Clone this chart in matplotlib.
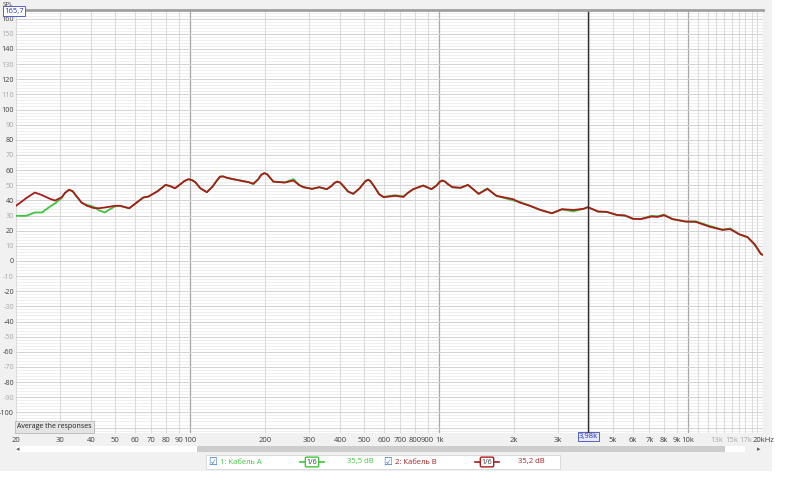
import matplotlib
matplotlib.use("Agg")
import matplotlib.pyplot as plt
from matplotlib.patches import Rectangle
from matplotlib.lines import Line2D

plt.rcParams['font.family'] = ['Open Sans', 'DejaVu Sans']

# ---------------- data ----------------
freqs = [20, 22, 23.8, 25.4, 27.4, 28.7, 30.5, 31.5, 32.7, 33.8, 34.5, 36.7, 38.5, 40.9, 43,
         45.5, 47.5, 49.9, 52.3, 57, 61, 64.9, 68, 74, 79.8, 83, 87, 92, 95, 98.6, 102, 105,
         110, 116.8, 123, 128, 132, 136, 140, 148.9, 160, 172, 179.6, 188, 193, 198.8, 204,
         207, 216, 240, 260, 275, 286, 309, 330, 354, 370, 380, 390, 400, 410, 430, 452, 480,
         505, 518, 530, 550, 575, 599, 666, 720, 750, 788, 864, 932, 980, 1005, 1030, 1055,
         1080, 1132, 1220, 1306, 1380, 1442, 1563, 1700, 1982, 2112, 2320, 2550, 2840, 3114,
         3466, 3800, 3958, 4360, 4712, 5172, 5580, 6020, 6440, 7120, 7560, 8000, 8680, 9800,
         10740, 12160, 13740, 14760, 16060, 17340, 18500, 19620, 20000]

spl_b = [36.4, 41.5, 45.2, 43.5, 41.0, 39.9, 42.0, 45.0, 47.0, 46.0, 44.0, 38.5, 36.5, 35.0, 34.8,
         35.3, 35.8, 36.4, 36.4, 34.8, 38.5, 41.9, 42.5, 46.0, 50.2, 49.5, 48.0, 51.0, 52.8, 54.0, 53.3, 52.0,
         48.0, 45.4, 49.0, 53.0, 55.7, 55.8, 55.0, 54.0, 53.0, 52.0, 50.9, 54.0, 56.8, 58.0, 57.2,
         56.0, 52.4, 51.8, 53.1, 50.0, 48.7, 47.6, 48.7, 47.4, 49.5, 51.5, 52.4, 51.8, 50.0, 46.0, 44.3, 48.0,
         52.5, 53.6, 52.8, 49.0, 44.0, 42.1, 43.0, 42.3, 45.0, 47.4, 49.8, 47.4, 50.0, 52.2, 53.1, 52.5,
         51.0, 48.7, 48.3, 50.2, 47.0, 44.3, 47.6, 43.0, 40.8, 38.5, 36.4, 33.7, 31.5, 34.2,
         33.7, 34.4, 35.5, 32.6, 32.4, 30.4, 30.0, 27.8, 27.6, 29.3, 29.1, 30.2, 27.6, 26.0,
         25.8, 22.7, 20.5, 21.0, 17.6, 15.7, 11.0, 4.6, 4.0]

spl_a = [29.8, 29.8, 32.0, 32.0, 35.9, 38.0, 41.5, 45.0, 47.0, 46.0, 44.0, 38.5, 37.0, 35.9, 33.5,
         32.0, 34.0, 36.0, 36.4, 34.8, 38.5, 41.9, 42.5, 46.0, 50.2, 49.5, 48.0, 51.0, 52.8, 54.0, 53.3, 52.0,
         48.0, 45.4, 49.0, 53.0, 55.7, 55.8, 55.0, 54.0, 53.0, 52.0, 50.9, 54.0, 56.8, 58.0, 57.2,
         56.0, 52.4, 51.8, 54.0, 50.0, 48.7, 47.6, 48.7, 47.4, 49.5, 51.5, 52.4, 51.8, 50.0, 46.0, 44.3, 48.0,
         52.5, 53.6, 52.8, 49.0, 44.0, 42.3, 43.4, 42.6, 45.0, 47.4, 49.8, 47.4, 50.0, 52.2, 53.1, 52.5,
         51.0, 48.7, 48.3, 50.2, 47.0, 44.3, 47.9, 43.0, 40.0, 39.0, 36.4, 33.7, 31.5, 34.0,
         32.8, 34.4, 35.5, 32.6, 32.4, 30.4, 30.0, 27.8, 27.6, 29.8, 29.5, 30.6, 27.6, 26.0,
         26.2, 23.2, 20.7, 21.5, 17.6, 15.7, 11.0, 4.6, 4.0]

x_tick_freqs = [20, 30, 40, 50, 60, 70, 80, 90, 100, 200, 300, 400, 500, 600, 700, 800, 900,
                1000, 2000, 3000, 5000, 6000, 7000, 8000, 9000, 10000, 13000, 15000, 17000, 20000]
x_tick_labels = ['20', '30', '40', '50', '60', '70', '80', '90', '100', '200', '300', '400', '500',
                 '600', '700', '800', '900', '1k', '2k', '3k', '5k', '6k', '7k', '8k', '9k', '10k',
                 '13k', '15k', '17k', '20kHz']
light_x_labels = ['13k', '15k', '17k']

y_ticks = list(range(-100, 161, 10))
y_tick_labels = [str(v) for v in y_ticks]

cursor_freq = 3980
cursor_label = '3,98k'
y_top_label = '165,7'

name_a = '1: Кабель A'
name_b = '2: Кабель B'
value_a = '35,5 dB'
value_b = '35,2 dB'
smoothing = '1/6'

color_a = '#3ec43e'
color_b = '#a81c1c'

# ---------------- figure ----------------
W, H = 800, 500
fig = plt.figure(figsize=(8, 5), dpi=100, facecolor='white')

def fx(px):
    return px / W

def fy(py):
    return 1 - py / H

# window background
fig.add_artist(Rectangle((0, fy(471)), fx(772), fy(0) - fy(471), transform=fig.transFigure,
                         facecolor='#f1f1f1', edgecolor='none', zorder=-10))

ax = fig.add_axes([fx(16), fy(433), fx(763) - fx(16), fy(10) - fy(433)])
ax.set_facecolor('white')
ax.set_xscale('log')
ax.set_xlim(20, 20000)
ax.set_ylim(-113.6, 165.7)

# grid lines
grid_freqs = []
for dec in (10, 100, 1000):
    for m in range(2, 10):
        grid_freqs.append(m * dec)
grid_freqs += list(range(11000, 20001, 1000))
for f in grid_freqs:
    if f in (100, 1000, 10000):
        continue
    ax.axvline(f, color='#dcdcdc', lw=0.8, zorder=1)
for f in (100, 1000, 10000):
    ax.axvline(f, color='#a8a8a8', lw=0.9, zorder=1)
for v in range(-112, 166, 2):
    if v % 10 == 0:
        ax.axhline(v, color='#d2d2d2', lw=0.7, zorder=1)
    else:
        ax.axhline(v, color='#ececec', lw=0.6, zorder=0.9)

# curves
ax.plot(freqs, spl_a, color=color_a, lw=1.3, zorder=3, solid_joinstyle='round')
ax.plot(freqs, spl_b, color=color_b, lw=1.3, zorder=4, solid_joinstyle='round')

# cursor
ax.axvline(cursor_freq, color='#303030', lw=1.0, zorder=5)

# spines
for s in ax.spines.values():
    s.set_visible(False)
ax.axhline(165.7, color='#a0a0a0', lw=2.0, zorder=6, clip_on=False)
ax.axvline(20000, color='#d0d0d0', lw=0.8, zorder=1)

# ticks
ax.set_xticks(x_tick_freqs)
ax.set_xticklabels(x_tick_labels)
ax.xaxis.set_minor_locator(matplotlib.ticker.NullLocator())
ax.tick_params(axis='x', length=0, pad=3, labelsize=5.5, labelcolor='#404040')
for lbl in ax.get_xticklabels():
    if lbl.get_text() in light_x_labels:
        lbl.set_color('#a8a8a8')
ax.set_yticks(y_ticks)
ax.set_yticklabels(y_tick_labels)
ax.tick_params(axis='y', length=0, pad=1.5, labelsize=5.2, labelcolor='#404040')
for i, lbl in enumerate(ax.get_yticklabels()):
    if (y_ticks[i] // 10) % 2 != 0:
        lbl.set_color('#a8a8a8')

# cursor label on x axis
ax.text(cursor_freq, -113.6, cursor_label, transform=ax.transData, fontsize=5.5,
        color='#3030b0', ha='center', va='top',
        bbox=dict(boxstyle='square,pad=0.15', facecolor='#e4e8f8', edgecolor='#5060c8', lw=0.7))
# SPL header
fig.text(fx(8), fy(4), 'SPL', fontsize=4.5, color='#404040', ha='center', va='center')
fig.text(fx(14), fy(11), y_top_label, fontsize=5.5, color='#3030b0', ha='center', va='center',
         bbox=dict(boxstyle='square,pad=0.15', facecolor='white', edgecolor='#5060c8', lw=0.7))

# "Average the responses" button
ax.text(0.002, 0.006, 'Average the responses', transform=ax.transAxes, fontsize=5,
        color='#202020', ha='left', va='bottom',
        bbox=dict(boxstyle='square,pad=0.35', facecolor='#e3e3e3', edgecolor='#b8b8b8', lw=0.6))

# scrollbar
fig.add_artist(Rectangle((fx(16), fy(452)), fx(745) - fx(16), fy(446) - fy(452),
                         transform=fig.transFigure, facecolor='white', edgecolor='none'))
fig.add_artist(Rectangle((fx(197), fy(452)), fx(725) - fx(197), fy(446) - fy(452),
                         transform=fig.transFigure, facecolor='#cdcdcd', edgecolor='none'))
fig.text(fx(18), fy(449), '◂', fontsize=5, color='#606060', ha='center', va='center',
         family='DejaVu Sans')
fig.text(fx(759), fy(449), '▸', fontsize=5, color='#606060', ha='center', va='center',
         family='DejaVu Sans')

# legend panel
fig.add_artist(Rectangle((fx(206), fy(469)), fx(560) - fx(206), fy(455) - fy(469),
                         transform=fig.transFigure, facecolor='white', edgecolor='#dadada', lw=0.7))

def legend_item(x_chk, name, color, x_sym, value, x_val):
    yc = fy(462)
    fig.text(fx(x_chk), yc, '☑', fontsize=7, color='#2f6fd0', ha='center', va='center',
             family='DejaVu Sans')
    fig.text(fx(x_chk + 7), yc, name, fontsize=5.5, color=color, ha='left', va='center')
    fig.add_artist(Line2D([fx(x_sym - 12), fx(x_sym + 12)], [yc, yc], transform=fig.transFigure,
                          color=color, lw=1.2))
    fig.text(fx(x_sym), yc, smoothing, fontsize=5, color='#303030', ha='center', va='center',
             bbox=dict(boxstyle='round,pad=0.2', facecolor='white', edgecolor=color, lw=1.0))
    fig.text(fx(x_val), yc, value, fontsize=5.5, color=color, ha='left', va='center')

legend_item(213, name_a, color_a, 312, value_a, 347)
legend_item(388, name_b, color_b, 487, value_b, 518)

fig.savefig('out.png', dpi=100, facecolor=fig.get_facecolor())
